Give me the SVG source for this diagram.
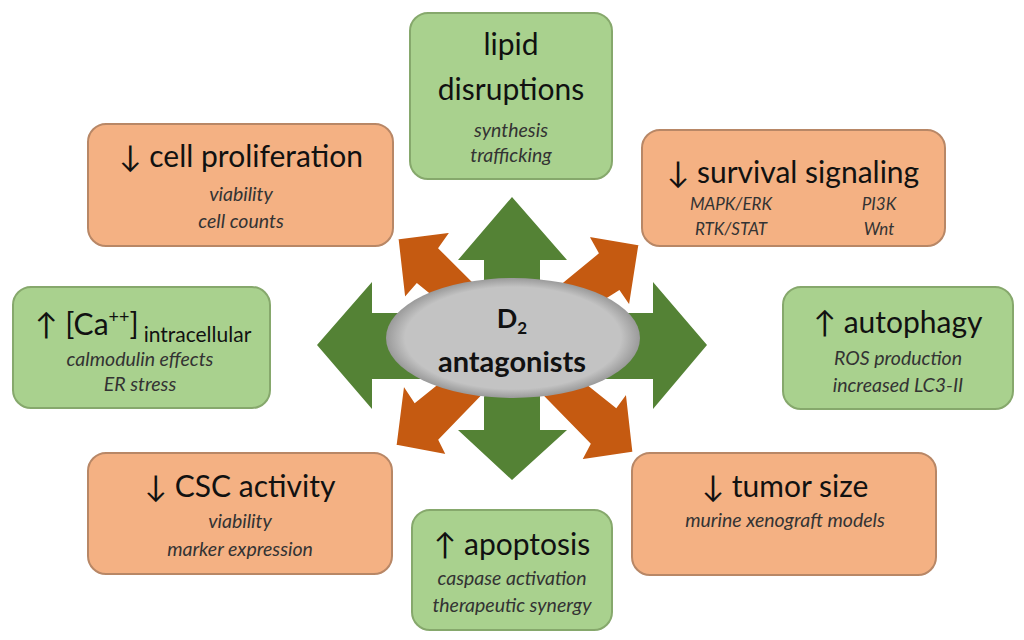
<svg xmlns="http://www.w3.org/2000/svg" width="1024" height="640" viewBox="0 0 1024 640">
<defs>
<radialGradient id="eg" cx="50%" cy="50%" r="50%">
<stop offset="0.85" stop-color="#c3c3c3"/><stop offset="1" stop-color="#9a9a9a"/>
</radialGradient>
</defs>
<style>
.g{fill:#a9d18e;stroke:#86a86c;stroke-width:2}
.o{fill:#f4b183;stroke:#b88766;stroke-width:2}
.t{font-family:Lato,"Open Sans",sans-serif;fill:#111;text-anchor:middle}
.st{text-anchor:start}
.h{font-size:30px}
.s{font-size:19.5px;font-style:italic;fill:#333}
.ss{font-size:17px;font-style:italic;fill:#333}
.ga{fill:#548235}
.oa{fill:#c55a11;stroke:#fff;stroke-width:3;stroke-linejoin:miter}
</style>
<rect width="1024" height="640" fill="#fff"/>
<g id="connectors">
<polygon class="ga" points="512,197 567,260 540,260 540,430 567,430 512,480 458,430 484,430 484,260 458,260"/>
<polygon class="ga" points="317,345 372,282 372,313 653,313 653,282 707,345 653,409 653,379 372,379 372,409"/>
<polygon class="oa" points="397,238 452,231 440,248 527,335 497,350 417,285 404,300"/>
<polygon class="oa" points="640,244 630,308 619,292 527,350 497,335 597,253 587,235"/>
<polygon class="oa" points="395,446 403,383 415,401 497,335 527,350 440,440 448,456"/>
<polygon class="oa" points="634,453 580,461 589,444 497,350 527,335 616,406 627,391"/>
</g>
<g id="center">
<ellipse cx="513" cy="338" rx="127" ry="60" fill="url(#eg)"/>
<text class="t" x="512" y="328" font-size="27" font-weight="bold">D<tspan font-size="17" dy="6">2</tspan></text>
<text class="t" x="512" y="372" font-size="29" font-weight="bold">antagonists</text>
</g>
<g id="lipid">
<rect class="g" x="410" y="13" width="202" height="166" rx="18"/>
<text class="t h" x="511" y="55">lipid</text>
<text class="t h" x="511" y="100">disruptions</text>
<text class="t s" x="511" y="137">synthesis</text>
<text class="t s" x="511" y="162">trafficking</text>
</g>
<g id="proliferation">
<rect class="o" x="88" y="124" width="305" height="122" rx="18"/>
<text class="t h" x="241" y="167">↓ cell proliferation</text>
<text class="t s" x="241" y="201">viability</text>
<text class="t s" x="241" y="228">cell counts</text>
</g>
<g id="survival">
<rect class="o" x="642" y="130" width="303" height="116" rx="18"/>
<text class="t h" x="793" y="183">↓ survival signaling</text>
<text class="t ss" x="731" y="210">MAPK/ERK</text>
<text class="t ss" x="879" y="210">PI3K</text>
<text class="t ss" x="731" y="235">RTK/STAT</text>
<text class="t ss" x="879" y="235">Wnt</text>
</g>
<g id="calcium">
<rect class="g" x="13" y="287" width="257" height="121" rx="18"/>
<text class="t st" x="35" y="335" font-size="30">↑ [Ca<tspan font-size="18" dy="-12">++</tspan><tspan dy="12">]</tspan><tspan font-size="21" dx="5" dy="7">intracellular</tspan></text>
<text class="t s" x="140" y="366">calmodulin effects</text>
<text class="t s" x="140" y="391">ER stress</text>
</g>
<g id="autophagy">
<rect class="g" x="783" y="287" width="230" height="122" rx="18"/>
<text class="t h" x="898" y="333">↑ autophagy</text>
<text class="t s" x="898" y="365">ROS production</text>
<text class="t s" x="898" y="392">increased LC3-II</text>
</g>
<g id="csc">
<rect class="o" x="88" y="453" width="304" height="121" rx="18"/>
<text class="t h" x="240" y="497">↓ CSC activity</text>
<text class="t s" x="240" y="528">viability</text>
<text class="t s" x="240" y="556">marker expression</text>
</g>
<g id="tumor">
<rect class="o" x="632" y="453" width="304" height="122" rx="18"/>
<text class="t h" x="785" y="497">↓ tumor size</text>
<text class="t s" x="785" y="527">murine xenograft models</text>
</g>
<g id="apoptosis">
<rect class="g" x="412" y="510" width="200" height="120" rx="18"/>
<text class="t h" x="512" y="555">↑ apoptosis</text>
<text class="t s" x="512" y="585">caspase activation</text>
<text class="t s" x="512" y="612">therapeutic synergy</text>
</g>
</svg>
